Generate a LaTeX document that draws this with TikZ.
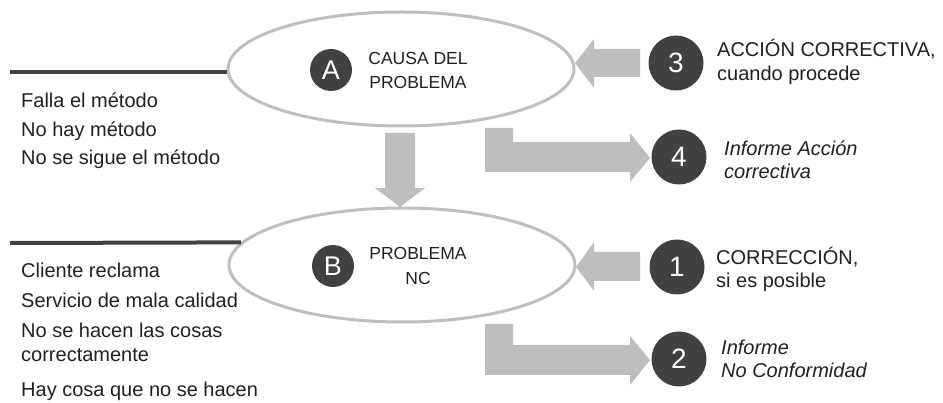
\documentclass[tikz,border=0pt]{standalone}
\usepackage{fontspec}
\setmainfont{Liberation Sans}
\usetikzlibrary{shapes.geometric}
\definecolor{ringgray}{HTML}{BCBEC0}
\definecolor{arrowgray}{HTML}{BCBEC0}
\definecolor{disc}{HTML}{414042}
\definecolor{ink}{HTML}{231F20}
\begin{document}
\begin{tikzpicture}[x=1pt,y=-1pt,
  ring/.style={ellipse,draw=ringgray,line width=3pt,minimum width=346pt,minimum height=114pt,inner sep=0pt},
  letterdisc/.style={circle,fill=disc,text=white,minimum size=42pt,inner sep=0pt,font=\fontsize{27}{27}\selectfont},
  numdisc/.style={circle,fill=disc,text=white,minimum size=55pt,inner sep=0pt,font=\fontsize{28}{28}\selectfont},
  blockarrow/.style={fill=arrowgray,draw=none},
  leftline/.style={draw=disc,line width=4pt},
  txt/.style={anchor=base west,inner sep=0pt,text=ink,font=\fontsize{20}{23}\selectfont},
  itxt/.style={txt,font=\fontsize{20}{23}\selectfont\itshape},
  rtxt/.style={anchor=base,inner sep=0pt,text=ink,font=\fontsize{17.5}{24}\selectfont}]
\useasboundingbox (0,0) rectangle (943,403);

% block arrows
\path[blockarrow] (385,133) -- (415,133) -- (415,188) -- (425,188) -- (400,207) -- (375,188) -- (385,188) -- cycle;
\path[blockarrow] (640,49) -- (594,49) -- (594,39) -- (575,63) -- (594,88) -- (594,77) -- (640,77) -- cycle;
\path[blockarrow] (640,252) -- (594,252) -- (594,242) -- (576,267) -- (594,291) -- (594,281) -- (640,281) -- cycle;
\path[blockarrow] (485,128) -- (513,128) -- (513,142) -- (630,142) -- (630,133) -- (650,158) -- (630,182) -- (630,172) -- (485,172) -- cycle;
\path[blockarrow] (485,324) -- (513,324) -- (513,345) -- (630,345) -- (630,336) -- (650,360) -- (630,385) -- (630,375) -- (485,375) -- cycle;

% the two ellipses
\node[ring] (ellA) at (401,69) {};
\node[ring] (ellB) at (402,265) {};

% horizontal rules on the left
\coordinate (la) at (10,72);
\coordinate (lb) at (10,243);
\draw[leftline] (la) -- (la -| ellA.west);
\draw[leftline] (lb) -- (ellB.172);

% letter discs and captions inside the ellipses
\node[letterdisc] (discA) at (331,70) {A};
\node[letterdisc] (discB) at (333,266) {B};
\node[rtxt] (capA1) at (418,65) {CAUSA DEL};
\node[rtxt] (capA2) at (418,89) {PROBLEMA};
\node[rtxt] (capB1) at (418,260) {PROBLEMA};
\node[rtxt] (capB2) at (418,285) {NC};

% numbered discs
\node[numdisc] (n3) at (676,63) {3};
\node[numdisc] (n4) at (679,157) {4};
\node[numdisc] (n1) at (677,267) {1};
\node[numdisc] (n2) at (679,359) {2};

% captions beside the numbered discs
\node[txt] (t3a) at (717,57) {ACCIÓN CORRECTIVA,};
\node[txt] (t3b) at (717,81) {cuando procede};
\node[itxt] (t4a) at (724,156) {Informe Acción};
\node[itxt] (t4b) at (724,179) {correctiva};
\node[txt] (t1a) at (716,265) {CORRECCIÓN,};
\node[txt] (t1b) at (716,288) {si es posible};
\node[itxt] (t2a) at (721,355) {Informe};
\node[itxt] (t2b) at (721,378) {No Conformidad};

% lists on the left
\node[txt] (fa1) at (21,108) {Falla el método};
\node[txt] (fa2) at (21,137) {No hay método};
\node[txt] (fa3) at (21,165) {No se sigue el método};
\node[txt] (pb1) at (21,278) {Cliente reclama};
\node[txt] (pb2) at (21,308) {Servicio de mala calidad};
\node[txt] (pb3) at (21,338) {No se hacen las cosas};
\node[txt] (pb4) at (21,362) {correctamente};
\node[txt] (pb5) at (21,397) {Hay cosa que no se hacen};
\end{tikzpicture}
\end{document}
